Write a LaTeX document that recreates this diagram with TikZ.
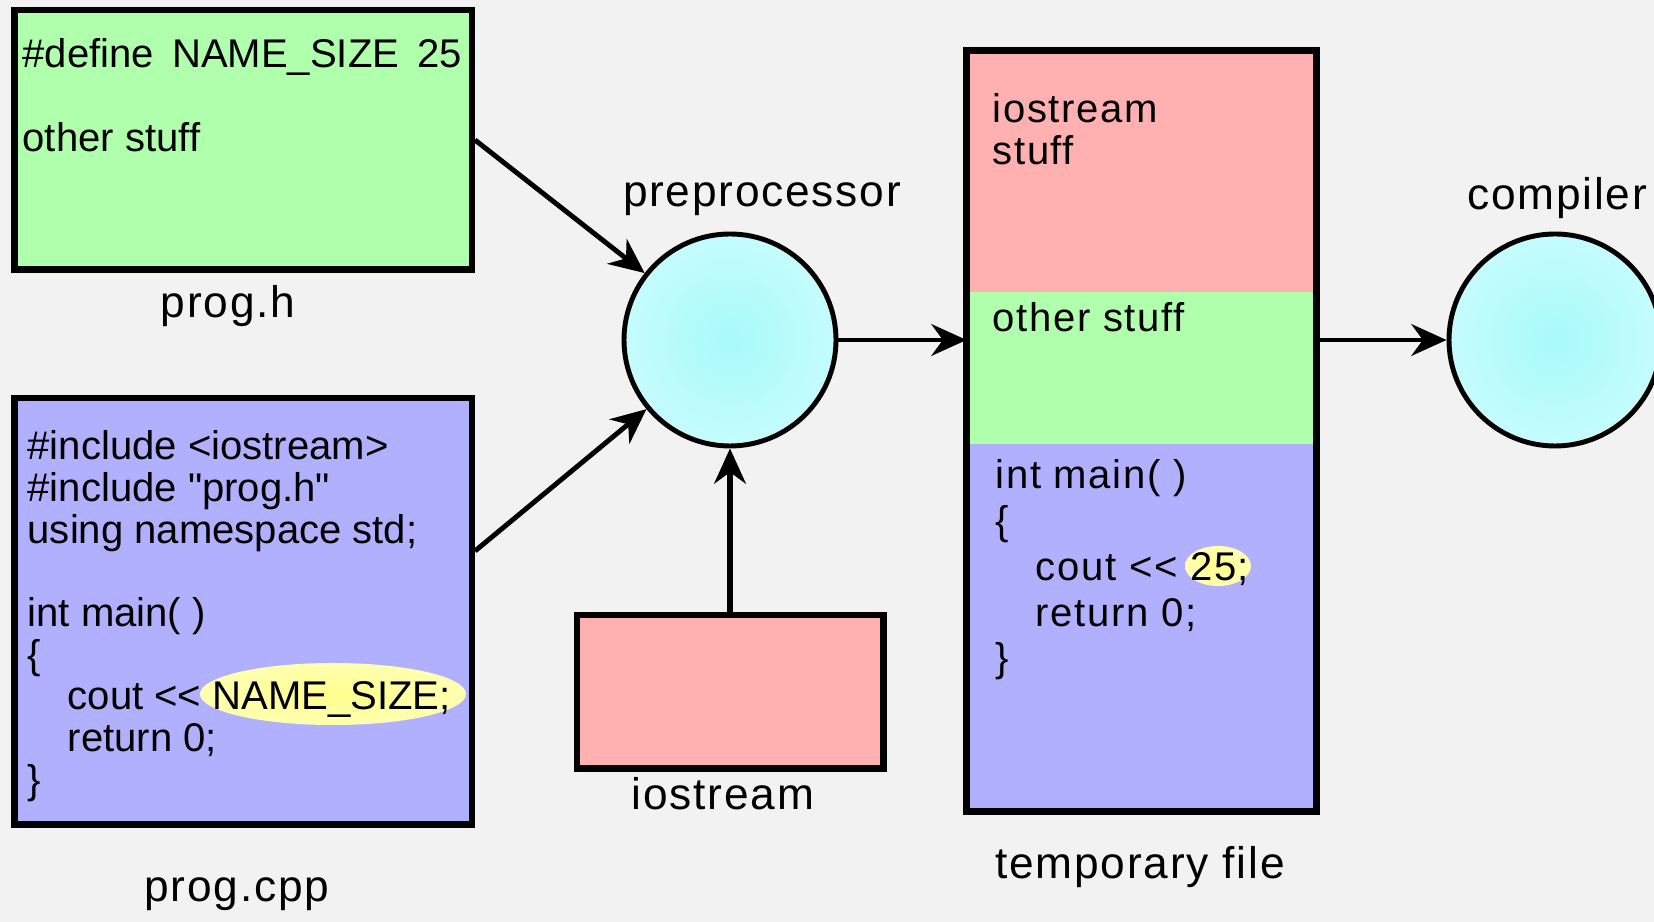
\documentclass[tikz,border=0pt]{standalone}
\usepackage{fontspec}
\setmainfont{Liberation Sans}
\newfontfamily\codefam{Liberation Sans}
\newfontfamily\spacedfam[LetterSpace=4]{Liberation Sans}
\usetikzlibrary{positioning,shapes.geometric,arrows.meta}

\definecolor{paper}{RGB}{242,242,242}
\definecolor{fgreen}{RGB}{176,255,172}
\definecolor{fred}{RGB}{255,176,176}
\definecolor{fblue}{RGB}{176,176,255}
\definecolor{cyanin}{RGB}{168,250,250}
\definecolor{cyanout}{RGB}{226,255,255}
\definecolor{yelin}{RGB}{255,255,140}
\definecolor{yelout}{RGB}{255,255,215}
\pgfdeclareradialshading{glowcyan}{\pgfpoint{0bp}{0bp}}{color(0bp)=(cyanin); color(50bp)=(cyanout)}
\pgfdeclareradialshading{glowyel}{\pgfpoint{0bp}{0bp}}{color(0bp)=(yelin); color(50bp)=(yelout)}

\newcommand\labelfont{\spacedfam\fontsize{12.6}{15}\selectfont}
\newcommand\codefont{\codefam\fontsize{11.4}{11.85}\selectfont}
\newcommand\tempfilefont{\spacedfam\fontsize{11.4}{11.7}\selectfont}
\newcommand\codelines[1]{\begin{tabular}[t]{@{}l@{}}#1\end{tabular}}
\newcommand\wsp{\hspace{0.45em}}

\tikzset{filebox/.style={rectangle,draw,line width=1.85pt,inner sep=0pt}}
\tikzset{part/.style={rectangle,inner sep=0pt,minimum width=3.485cm}}
\tikzset{proc/.style={circle,draw,line width=1.4pt,minimum size=2.12cm,inner sep=0pt,shade,shading=glowcyan}}
\tikzset{hilite/.style={ellipse,inner sep=0pt,shade,shading=glowyel}}
\tikzset{tag/.style={font=\labelfont,anchor=base,inner sep=0pt}}
\tikzset{code/.style={font=\codefont,anchor=base west,inner sep=0pt}}

\begin{document}
\begin{tikzpicture}[>={Stealth[length=10pt,width=9pt]}]
    \fill[paper] (0,0) rectangle (16.54,-9.22);
    \useasboundingbox (0,0) rectangle (16.54,-9.22);

    % source files
    \node[filebox,fill=fgreen,minimum width=4.575cm,minimum height=2.595cm] (progh) at (2.43,-1.40) {};
    \node[filebox,fill=fblue,minimum width=4.575cm,minimum height=4.265cm] (progcpp) at (2.43,-6.115) {};
    \node[filebox,fill=fred,minimum width=3.065cm,minimum height=1.535cm] (iostr) at (7.30,-6.92) {};
    \node[hilite,minimum width=2.66cm,minimum height=0.62cm] (hlname) at (3.33,-6.94) {};

    \node[code] (htext) at (0.22,-0.68) {\codelines{\#define\wsp NAME\_SIZE\wsp 25\\ \\other stuff}};
    \node[code] (cpptext) at (0.27,-4.60) {\codelines{\#include <iostream>\\\#include "prog.h"\\using namespace std;\\ \\int main( )\\\{\\\quad cout << NAME\_SIZE;\\\quad return 0;\\\}}};

    % temporary file
    \node[part,fill=fred,minimum height=2.4075cm] (tmpa) at (11.415,-1.716) {};
    \node[part,fill=fgreen,minimum height=1.52cm] (tmpb) at (11.415,-3.68) {};
    \node[part,fill=fblue,minimum height=3.6675cm] (tmpc) at (11.415,-6.274) {};
    \draw[line width=1.85pt] (tmpa.north west) rectangle (tmpc.south east);
    \node[hilite,minimum width=0.66cm,minimum height=0.40cm] (hlval) at (12.18,-5.66) {};

    \node[code,font=\tempfilefont] (tmptexta) at (9.92,-1.23) {\codelines{iostream\\stuff}};
    \node[code,font=\tempfilefont] (tmptextb) at (9.92,-3.32) {other stuff};
    \node[code,font=\spacedfam\fontsize{11.4}{13}\selectfont] (tmptextc) at (9.95,-4.89) {\codelines{int main( )\\\{\\\quad cout << 25;\\\quad return 0;\\\}}};

    % tools
    \node[proc] (prep) at (7.30,-3.40) {};
    \node[proc] (comp) at (15.55,-3.40) {};

    % labels
    \node[tag] (hlbl) at (2.28,-3.18) {prog.h};
    \node[tag] (cpplbl) at (2.37,-9.02) {prog.cpp};
    \node[tag] (iolbl) at (7.23,-8.10) {iostream};
    \node[tag] (preplbl) at (7.62,-2.07) {preprocessor};
    \node[tag] (tmplbl) at (11.40,-8.79) {temporary file};
    \node[tag] (complbl) at (15.57,-2.10) {compiler};

    \draw [->,line width=1.4pt] (progh.east) -- (prep);
    \draw [->,line width=1.4pt] ([yshift=0.605cm]progcpp.east) -- (prep);
    \draw [->,line width=1.6pt] (iostr) -- (prep);
    \draw [->,line width=1.3pt] (prep) -- (prep -| tmpb.west);
    \draw [->,line width=1.3pt] (comp -| tmpb.east) -- (comp);
\end{tikzpicture}
\end{document}
